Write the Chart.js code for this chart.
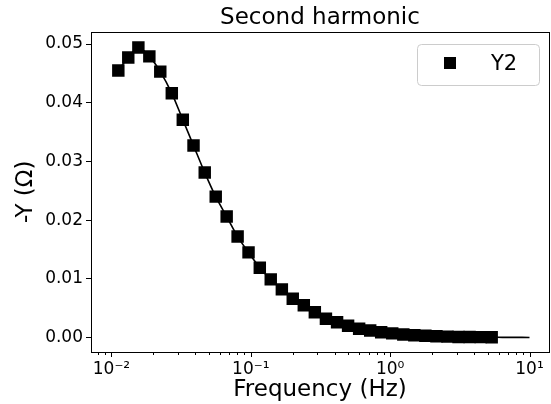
<!DOCTYPE html>
<html>
<head>
<meta charset="utf-8">
<script src="https://cdn.jsdelivr.net/npm/chart.js@4"></script>
<style>
  html, body { margin: 0; padding: 0; background: #fff; }
  #wrap { width: 551px; height: 404px; }
</style>
</head>
<body>
<div id="wrap"><canvas id="chart"></canvas></div>
<script>
// measured points (Hz, -Y in ohm)
const freq = [0.0112, 0.0132, 0.0156, 0.0187, 0.0224, 0.0271, 0.0325, 0.0388, 0.0467, 0.0560,
    0.0671, 0.0804, 0.0963, 0.116, 0.139, 0.167, 0.200, 0.240, 0.288, 0.346,
    0.416, 0.499, 0.599, 0.719, 0.862, 1.035, 1.243, 1.491, 1.790, 2.148,
    2.579, 3.095, 3.715, 4.460, 5.353];
const y2 = [0.0455, 0.0477, 0.0494, 0.0479, 0.0453, 0.0416, 0.0371, 0.0327, 0.0281, 0.0240,
    0.0206, 0.0172, 0.0145, 0.0119, 0.0099, 0.0082, 0.0066, 0.0055, 0.0043, 0.0032,
    0.0026, 0.0020, 0.0015, 0.0012, 0.0009, 0.0007, 0.0005, 0.0004, 0.0003, 0.0002,
    0.00015, 0.0001, 0.00008, 0.00006, 0.00004];

// fitted curve runs on to 10 Hz
const fitTailFreq = [6.4, 7.8, 10];
const fitTailY = [0.00003, 0.00002, 0.00001];

const yTicks = [0, 0.01, 0.02, 0.03, 0.04, 0.05];
const supers = { '-': '⁻', '0': '⁰', '1': '¹', '2': '²', '3': '³' };

const fitFreq = freq.concat(fitTailFreq);
const fitY = y2.concat(fitTailY);

const font = "'DejaVu Sans', sans-serif";
const titleText = 'Second harmonic';

// title over the axes, frame, x ticks (major + minor) and the boxed legend
const extras = {
    id: 'extras',
    afterDraw(chart) {
        const ctx = chart.ctx;
        const a = chart.chartArea;
        const xs = chart.scales.x;
        ctx.save();
        ctx.fillStyle = '#000';
        ctx.font = '23px ' + font;
        ctx.textAlign = 'center';
        ctx.textBaseline = 'alphabetic';
        ctx.fillText(titleText, (a.left + a.right) / 2, 24);

        ctx.strokeStyle = '#000';
        ctx.lineWidth = 1;
        ctx.strokeRect(Math.round(a.left) + 0.5, Math.round(a.top) + 0.5,
            Math.round(a.right - a.left), Math.round(a.bottom - a.top));

        xs.ticks.forEach(t => {
            const major = Math.abs(Math.log10(t.value) - Math.round(Math.log10(t.value))) < 1e-9;
            const px = Math.round(xs.getPixelForValue(t.value)) + 0.5;
            ctx.beginPath();
            ctx.moveTo(px, a.bottom);
            ctx.lineTo(px, a.bottom + (major ? 5 : 3));
            ctx.stroke();
        });

        // legend
        const bx = 417, by = 44, bw = 122, bh = 41;
        ctx.beginPath();
        ctx.roundRect(bx + 0.5, by + 0.5, bw, bh, 4);
        ctx.fillStyle = 'rgba(255,255,255,0.8)';
        ctx.fill();
        ctx.strokeStyle = '#cccccc';
        ctx.stroke();
        ctx.fillStyle = '#000';
        ctx.fillRect(444, 57, 12, 12);
        ctx.font = '21px ' + font;
        ctx.textAlign = 'left';
        ctx.fillText(chart.data.datasets[0].label, 491, 70);
        ctx.restore();
    }
};

const ctx = document.querySelector('#chart').getContext('2d');
const chart = new Chart(ctx, {
    type: 'scatter',
    data: {
        datasets: [{
            label: 'Y2',
            data: freq.map((f, i) => ({ x: f, y: y2[i] })),
            showLine: false,
            pointStyle: 'rect',
            pointRadius: 8.8,
            pointHoverRadius: 8.8,
            backgroundColor: '#000',
            borderColor: '#000',
            borderWidth: 0
        }, {
            label: 'fit',
            data: fitFreq.map((f, i) => ({ x: f, y: fitY[i] })),
            showLine: true,
            pointRadius: 0,
            borderColor: '#000',
            borderWidth: 1.6,
            tension: 0.3
        }]
    },
    options: {
        responsive: true,
        maintainAspectRatio: false,
        animation: false,
        layout: { autoPadding: false, padding: { left: 0, right: 2, top: 31.7, bottom: 0 } },
        scales: {
            x: {
                type: 'logarithmic',
                min: 0.00713,
                max: 13.8,
                afterBuildTicks: s => {
                    const t = [];
                    for (let e = -3; e <= 1; e++) {
                        for (let m = 1; m <= 9; m++) {
                            const v = m * Math.pow(10, e);
                            if (v >= s.min && v <= s.max) t.push({ value: v });
                        }
                    }
                    s.ticks = t;
                },
                afterFit: s => { s.height = 52; s.paddingLeft = 0; s.paddingRight = 0; },
                grid: { display: false, drawTicks: false },
                border: { display: false },
                ticks: {
                    autoSkip: false,
                    maxRotation: 0,
                    padding: 7,
                    color: '#000',
                    font: { family: font, size: 17 },
                    callback: v => {
                        const e = Math.log10(v);
                        if (Math.abs(e - Math.round(e)) > 1e-9) return '';
                        return '10' + String(Math.round(e)).split('').map(c => supers[c]).join('');
                    }
                },
                title: {
                    display: true,
                    text: 'Frequency (Hz)',
                    color: '#000',
                    font: { family: font, size: 23 },
                    padding: { top: 0, bottom: 0 }
                }
            },
            y: {
                min: -0.00247,
                max: 0.0521,
                afterBuildTicks: s => { s.ticks = yTicks.map(v => ({ value: v })); },
                afterFit: s => { s.width = 91; s.paddingTop = 0; s.paddingBottom = 0; },
                grid: { display: true, drawOnChartArea: false, tickLength: 5, color: '#000' },
                border: { display: false },
                ticks: {
                    padding: 3,
                    color: '#000',
                    font: { family: font, size: 17 },
                    callback: v => v.toFixed(2)
                },
                title: {
                    display: true,
                    text: '-Y (Ω)',
                    color: '#000',
                    font: { family: font, size: 23 },
                    padding: { top: 12, bottom: 0 }
                }
            }
        },
        plugins: {
            legend: { display: false },
            tooltip: { enabled: false },
            title: { display: false }
        }
    },
    plugins: [extras]
});
</script>
</body>
</html>
